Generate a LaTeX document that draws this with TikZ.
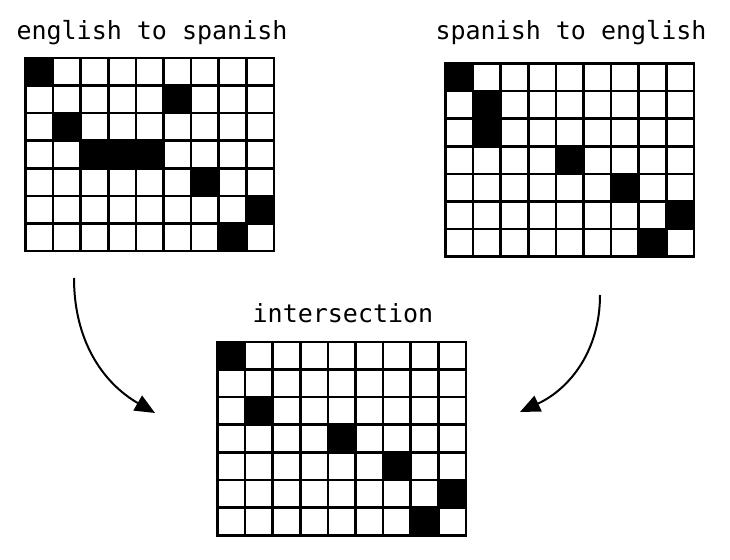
\documentclass[tikz,border=0pt]{standalone}
\usepackage{fontspec}
\usepackage{tikz}
\newfontfamily\monofont{DejaVu Sans Mono}
\usetikzlibrary{arrows.meta}
\usetikzlibrary{positioning}
\tikzset{title/.style = {anchor = base, inner sep = 0,
                         font = \monofont\fontsize{25}{30}\selectfont}}
\tikzset{cellgrid/.style = {line width = 2.6pt, line cap = rect}}
\tikzset{flow/.style = {line width = 2pt, -{Triangle[length=20pt, width=17pt]}}}

\begin{document}
\begin{tikzpicture}[x = 1pt, y = 1pt]
      \useasboundingbox (0, 0) rectangle (730, 559);

      \node [title] (engspa) at (152, 519.5) {english to spanish};
      \node [title] (spaeng) at (571, 519.5) {spanish to english};
      \node [title] (inter) at (343, 236.7) {intersection};

      % english to spanish
      \begin{scope}[shift = {(25.5, 501)}, x = 27.6pt, y = -27.6pt]
        \foreach \c/\r in {0/0, 5/1, 1/2, 2/3, 3/3, 4/3, 6/4, 8/5, 7/6}
          \fill (\c, \r) rectangle ++(1, 1);
        \foreach \i in {1, ..., 8}
          \draw [cellgrid] (\i, 0) -- (\i, 7);
        \foreach \j in {1, ..., 6}
          \draw [cellgrid] (0, \j) -- (9, \j);
        \draw [cellgrid] (0, 0) rectangle (9, 7);
      \end{scope}

      % spanish to english
      \begin{scope}[shift = {(445.5, 495.5)}, x = 27.6pt, y = -27.6pt]
        \foreach \c/\r in {0/0, 1/1, 1/2, 4/3, 6/4, 8/5, 7/6}
          \fill (\c, \r) rectangle ++(1, 1);
        \foreach \i in {1, ..., 8}
          \draw [cellgrid] (\i, 0) -- (\i, 7);
        \foreach \j in {1, ..., 6}
          \draw [cellgrid] (0, \j) -- (9, \j);
        \draw [cellgrid] (0, 0) rectangle (9, 7);
      \end{scope}

      % intersection
      \begin{scope}[shift = {(217.5, 217)}, x = 27.6pt, y = -27.6pt]
        \foreach \c/\r in {0/0, 1/2, 4/3, 6/4, 8/5, 7/6}
          \fill (\c, \r) rectangle ++(1, 1);
        \foreach \i in {1, ..., 8}
          \draw [cellgrid] (\i, 0) -- (\i, 7);
        \foreach \j in {1, ..., 6}
          \draw [cellgrid] (0, \j) -- (9, \j);
        \draw [cellgrid] (0, 0) rectangle (9, 7);
      \end{scope}

      \coordinate (engspa out) at (74, 281);
      \coordinate (engspa in) at (155, 146);
      \coordinate (spaeng out) at (600, 264);
      \coordinate (spaeng in) at (520, 147);

      \draw [flow] (engspa out) to [out = -90, in = 150] (engspa in);
      \draw [flow] (spaeng out) to [out = -90, in = 25] (spaeng in);
    \end{tikzpicture}
\end{document}
